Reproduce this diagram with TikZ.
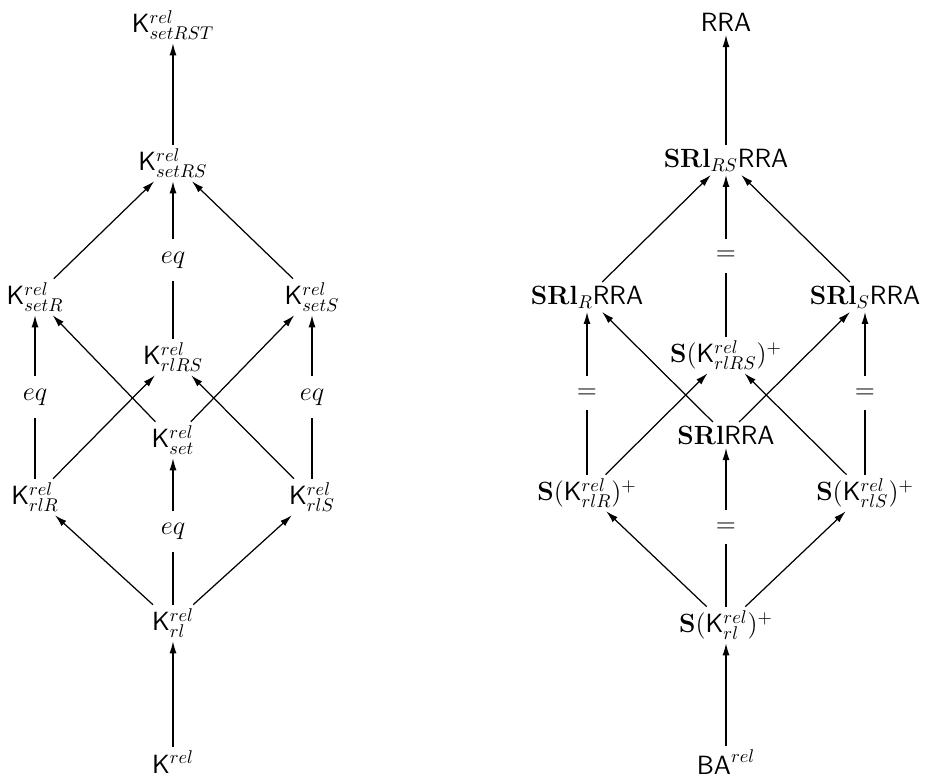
\RequirePackage{fix-cm}
\documentclass[tikz,border=0pt]{standalone}
\usetikzlibrary{arrows.meta}
\begin{document}
\begin{tikzpicture}[x=0.02cm,y=-0.02cm,
  lbl/.style={font=\fontsize{15}{17}\selectfont, inner sep=2pt},
  arr/.style={-{Latex[length=2.4mm,width=1.4mm]}, line width=0.7pt},
  eqlbl/.style={fill=white, font=\fontsize{15}{17}\selectfont, inner xsep=2pt, inner ysep=7pt}]
\useasboundingbox (0,0) rectangle (925,783);
% ---------- left diagram ----------
\node[lbl] (setRST) at (173,25)  {$\mathsf{K}^{rel}_{setRST}$};
\node[lbl] (setRS)  at (173,163) {$\mathsf{K}^{rel}_{setRS}$};
\node[lbl] (setR)   at (35,297)  {$\mathsf{K}^{rel}_{setR}$};
\node[lbl] (setS)   at (312,297) {$\mathsf{K}^{rel}_{setS}$};
\node[lbl] (rlRS)   at (173,357) {$\mathsf{K}^{rel}_{rlRS}$};
\node[lbl] (set)    at (173,440) {$\mathsf{K}^{rel}_{set}$};
\node[lbl] (rlR)    at (35,497)  {$\mathsf{K}^{rel}_{rlR}$};
\node[lbl] (rlS)    at (312,497) {$\mathsf{K}^{rel}_{rlS}$};
\node[lbl] (rl)     at (173,623) {$\mathsf{K}^{rel}_{rl}$};
\node[lbl] (K)      at (173,762) {$\mathsf{K}^{rel}$};

\draw[arr] (setRS) -- (setRST);
\draw[arr] (setR) -- (setRS);
\draw[arr] (setS) -- (setRS);
\draw[arr] (rlRS) -- node[eqlbl] {$eq$} (setRS);
\draw[arr] (rlR) -- node[eqlbl] {$eq$} (setR);
\draw[arr] (rlS) -- node[eqlbl] {$eq$} (setS);
\draw[arr] (set) -- (setR);
\draw[arr] (set) -- (setS);
\draw[arr] (rlR) -- (rlRS);
\draw[arr] (rlS) -- (rlRS);
\draw[arr] (rl) -- (rlR);
\draw[arr] (rl) -- (rlS);
\draw[arr] (rl) -- node[eqlbl] {$eq$} (set);
\draw[arr] (K) -- (rl);

% ---------- right diagram ----------
\node[lbl] (RRA)   at (726,22)  {$\mathsf{RRA}$};
\node[lbl] (SRlRS) at (726,160) {$\mathbf{SRl}_{RS}\mathsf{RRA}$};
\node[lbl] (SRlR)  at (587,297) {$\mathbf{SRl}_{R}\mathsf{RRA}$};
\node[lbl] (SRlS)  at (865,297) {$\mathbf{SRl}_{S}\mathsf{RRA}$};
\node[lbl] (SrlRS) at (726,355) {$\mathbf{S}(\mathsf{K}^{rel}_{rlRS})^{+}$};
\node[lbl] (SRl)   at (726,435) {$\mathbf{SRl}\mathsf{RRA}$};
\node[lbl] (SrlR)  at (587,493) {$\mathbf{S}(\mathsf{K}^{rel}_{rlR})^{+}$};
\node[lbl] (SrlS)  at (865,493) {$\mathbf{S}(\mathsf{K}^{rel}_{rlS})^{+}$};
\node[lbl] (Srl)   at (726,625) {$\mathbf{S}(\mathsf{K}^{rel}_{rl})^{+}$};
\node[lbl] (BA)    at (726,762) {$\mathsf{BA}^{rel}$};

\draw[arr] (SRlRS) -- (RRA);
\draw[arr] (SRlR) -- (SRlRS);
\draw[arr] (SRlS) -- (SRlRS);
\draw[arr] (SrlRS) -- node[eqlbl] {$=$} (SRlRS);
\draw[arr] (SrlR) -- node[eqlbl] {$=$} (SRlR);
\draw[arr] (SrlS) -- node[eqlbl] {$=$} (SRlS);
\draw[arr] (SRl) -- (SRlR);
\draw[arr] (SRl) -- (SRlS);
\draw[arr] (SrlR) -- (SrlRS);
\draw[arr] (SrlS) -- (SrlRS);
\draw[arr] (Srl) -- (SrlR);
\draw[arr] (Srl) -- (SrlS);
\draw[arr] (Srl) -- node[eqlbl] {$=$} (SRl);
\draw[arr] (BA) -- (Srl);
\end{tikzpicture}
\end{document}
